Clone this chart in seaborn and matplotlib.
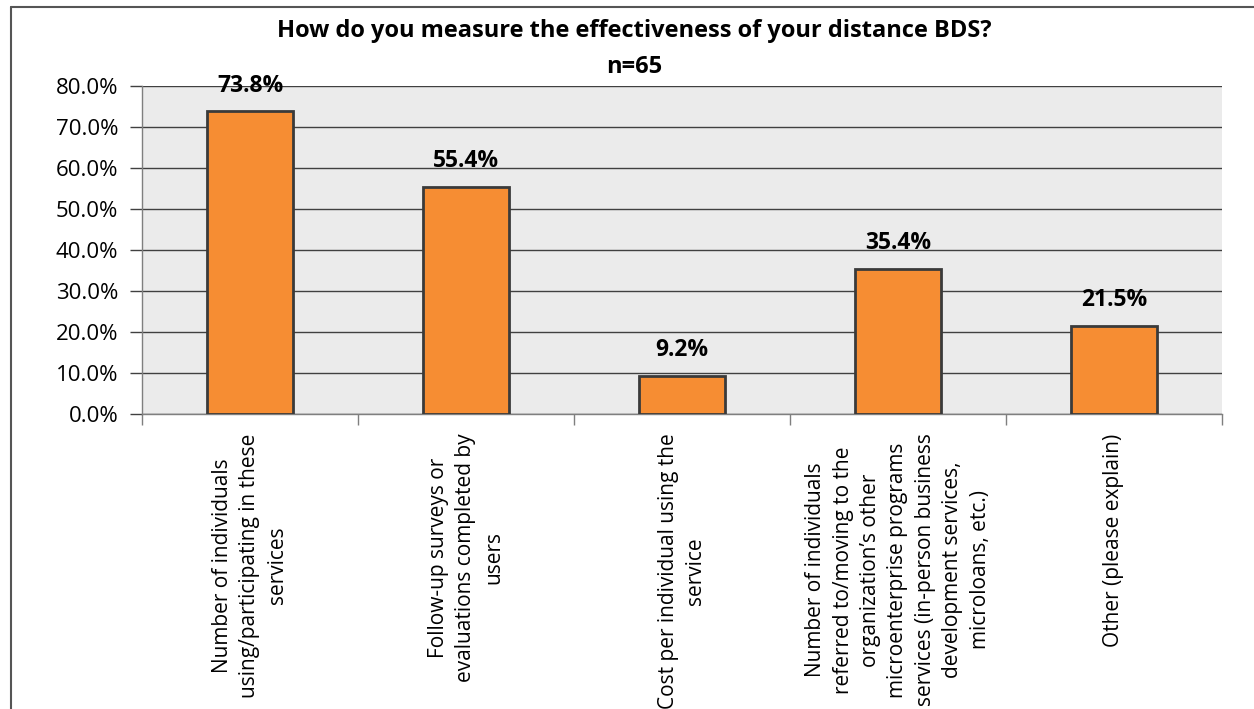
import matplotlib
matplotlib.use("Agg")
import matplotlib.pyplot as plt
import seaborn as sns
import pandas as pd
import numpy as np
from matplotlib.lines import Line2D
from matplotlib.ticker import FixedLocator, FuncFormatter

categories = [
    "Number of individuals\nusing/participating in these\nservices",
    "Follow-up surveys or\nevaluations completed by\nusers",
    "Cost per individual using the\nservice",
    "Number of individuals\nreferred to/moving to the\norganization\u2019s other\nmicroenterprise programs\nservices (in-person business\ndevelopment services,\nmicroloans, etc.)",
    "Other (please explain)",
]
values = [73.8, 55.4, 9.2, 35.4, 21.5]
yticks = [0, 10, 20, 30, 40, 50, 60, 70, 80]
title = "How do you measure the effectiveness of your distance BDS?\nn=65"

sns.set_theme(style="white")
plt.rcParams['font.family'] = ['Open Sans', 'DejaVu Sans']
plt.rcParams['text.color'] = 'black'
plt.rcParams['xtick.color'] = 'black'
plt.rcParams['ytick.color'] = 'black'

fig = plt.figure(figsize=(12.54, 7.09), dpi=100)
ax = fig.add_axes([142/1254, 1 - 414/709, (1222-142)/1254, (414-86)/709])

df = pd.DataFrame({"cat": categories, "val": values})
sns.barplot(data=df, x="cat", y="val", ax=ax, color="#F68D33", width=0.4,
            edgecolor="#3A3A3A", linewidth=2, saturation=1, zorder=3)

ax.set_facecolor("#EBEBEB")
ax.set_xlim(-0.5, 4.5)
ax.set_ylim(0, 80)
ax.yaxis.set_major_locator(FixedLocator(yticks))
ax.yaxis.set_major_formatter(FuncFormatter(lambda v, p: f"{v:.1f}%"))
ax.grid(axis="y", color="#404040", linewidth=1, zorder=0)
ax.set_axisbelow(True)
for s in ["top", "right"]:
    ax.spines[s].set_visible(False)
for s in ["left", "bottom"]:
    ax.spines[s].set_color("#7F7F7F")
    ax.spines[s].set_linewidth(1)

ax.tick_params(axis="y", length=9, width=1, color="#404040", labelsize=16, pad=8, left=True,
               labelcolor="black")
ax.set_xticks(range(len(categories)))
ax.set_xticklabels(categories, rotation=90, ha="center", va="top", fontsize=15,
                   multialignment="center", linespacing=1.4, color="black")
ax.tick_params(axis="x", length=0, pad=14)
ax.set_xticks(np.arange(-0.5, 5.0, 1.0), minor=True)
ax.tick_params(axis="x", which="minor", length=8, width=1, color="#7F7F7F", bottom=True)
ax.set_xlabel("")
ax.set_ylabel("")

for i, v in enumerate(values):
    ax.text(i, v + 6.3, f"{v:.1f}%", ha="center", va="center", fontsize=16.5,
            fontweight="bold", color="black")

fig.text(634/1254, 1 - 49/709, title, ha="center", va="center", fontsize=17,
         fontweight="bold", linespacing=1.7, color="black")

fig.add_artist(Line2D([11/1254, 11/1254], [0, 1 - 7/709], transform=fig.transFigure, color="#555555", linewidth=1.5))
fig.add_artist(Line2D([11/1254, 1], [1 - 7/709, 1 - 7/709], transform=fig.transFigure, color="#555555", linewidth=1.5))

fig.savefig("out.png", dpi=100)
